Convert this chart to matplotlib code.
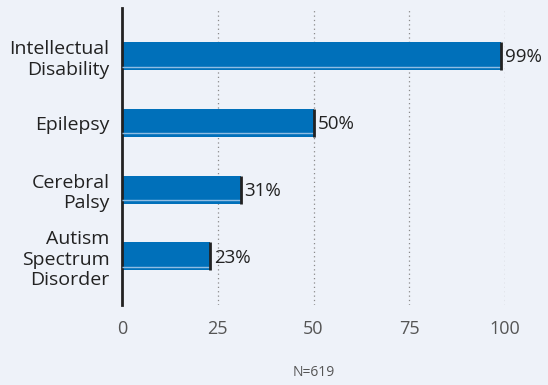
import numpy as np
from matplotlib import pyplot as plt

conditions = ["Intellectual\nDisability", "Epilepsy", "Cerebral\nPalsy", "Autism\nSpectrum\nDisorder"]
percents = [99, 50, 31, 23]
xticks = [0, 25, 50, 75, 100]
note = "N=619"

BG = "#eef2f9"
BLUE = "#0070ba"
INK = "#222222"

plt.rcParams["font.family"] = ["Open Sans", "DejaVu Sans"]

fig = plt.figure(figsize=(5.48, 3.85), dpi=100, facecolor=BG)
ax = fig.add_axes([122 / 548, 1 - 305 / 385, 383 / 548, 297 / 385], facecolor=BG)

ys = np.arange(len(conditions))
height = 0.42
ax.barh(ys, percents, height=height, color=BLUE, zorder=2)

# thin highlight near the bottom edge of each bar, dark cap at the end
for y, v in zip(ys, percents):
    ax.hlines(y + height / 2 - 0.05, 0, v, color="#8fbde3", lw=1, zorder=3)
    ax.vlines(v, y - height / 2, y + height / 2, color=INK, lw=2, zorder=4)
    ax.text(v + 1.0, y + 0.02, f"{v}%", va="center", ha="left",
            fontsize=13.5, color=INK, zorder=5)

ax.set_xlim(0, 100)
ax.set_ylim(3.73, -0.72)
ax.set_xticks(xticks)
ax.set_xticklabels([str(t) for t in xticks], fontsize=13, color="#555555")
ax.tick_params(axis="x", length=0, pad=11)
ax.set_yticks(ys)
ax.set_yticklabels(conditions, fontsize=14, color=INK, linespacing=1.2)
ax.tick_params(axis="y", length=0, pad=9)

for x in xticks[1:]:
    ax.axvline(x, color="#8a8a8a", lw=0.9, ls=(0, (1, 2.5)), zorder=1)

for side in ("top", "right", "bottom"):
    ax.spines[side].set_visible(False)
ax.spines["left"].set_color(INK)
ax.spines["left"].set_linewidth(2)

fig.text((122 + 505) / 2 / 548, 1 - 373 / 385, note, ha="center", va="center",
         fontsize=10, color="#555555")

fig.savefig("out.png", dpi=100, facecolor=BG)
